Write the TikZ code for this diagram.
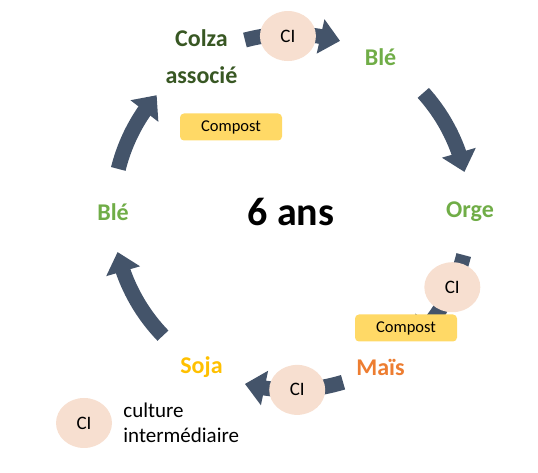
\documentclass[tikz,border=0pt]{standalone}
\usepackage{fontspec}
\setmainfont{Carlito}
\usepackage{tikz}
\usetikzlibrary{arrows.meta, positioning, shapes.geometric, bending}

\definecolor{flowblue}{HTML}{44546A}
\definecolor{cipeach}{HTML}{F7DFD0}
\definecolor{compostgold}{HTML}{FFD966}
\definecolor{colzagreen}{HTML}{385723}
\definecolor{blegreen}{HTML}{70AD47}
\definecolor{maisorange}{HTML}{ED7D31}
\definecolor{sojagold}{HTML}{FFC000}

\begin{document}
\begin{tikzpicture}[
  x=1pt, y=1pt,
  crop/.style={font=\fontsize{24}{37}\selectfont\bfseries, align=center, inner sep=0pt},
  ci/.style={ellipse, fill=cipeach, minimum width=56pt, minimum height=50pt, inner sep=0pt, font=\fontsize{19}{22}\selectfont},
  compost/.style={rectangle, rounded corners=4pt, fill=compostgold, minimum width=102pt, minimum height=27pt, inner sep=0pt, font=\fontsize{16.5}{19}\selectfont},
  flow/.style={draw=flowblue, line width=15pt, -{Triangle[width=34pt, length=20pt]}}
]
\useasboundingbox (0,0) rectangle (538,473);
\coordinate (c) at (291,261);

% fleches du cycle
\draw[flow] ([shift={(105:178pt)}]c) arc[start angle=105, end angle=74, radius=178pt];
\draw[flow] ([shift={(42:178pt)}]c) arc[start angle=42, end angle=13, radius=178pt];
\draw[flow] ([shift={(346:178pt)}]c) arc[start angle=346, end angle=314, radius=178pt];
\draw[flow] ([shift={(287:178pt)}]c) arc[start angle=287, end angle=255, radius=178pt];
\draw[flow] ([shift={(224:178pt)}]c) arc[start angle=224, end angle=193, radius=178pt];
\draw[flow] ([shift={(166:178pt)}]c) arc[start angle=166, end angle=139, radius=178pt];

% cultures intermediaires
\node[ci] (citop) at ([shift={(91:176pt)}]c) {CI};
\node[ci] (ciright) at ([shift={(335:178pt)}]c) {CI};
\node[ci] (cibottom) at ([shift={(272:178pt)}]c) {CI};

% cultures
\node[crop, text=colzagreen] (colza) at ([shift={(120:179pt)}]c) {Colza\\associé};
\node[crop, text=blegreen] (bletop) at ([shift={(60:179pt)}]c) {Blé};
\node[crop, text=blegreen] (orge) at ([shift={(0:179pt)}]c) {Orge};
\node[crop, text=maisorange] (mais) at ([shift={(300:179pt)}]c) {Maïs};
\node[crop, text=sojagold] (soja) at ([shift={(240:179pt)}]c) {Soja};
\node[crop, text=blegreen] (bleleft) at ([shift={(180:178pt)}]c) {Blé};

% compost
\node[compost] (compup) at (231,346) {Compost};
\node[compost] (compdown) at (406,145) {Compost};

\node[font=\fontsize{40}{44}\selectfont\bfseries] (duree) at (c) {6 ans};

% legende
\node[ci] (legci) at (84,50) {CI};
\node[right=11pt of legci, align=left, inner sep=0pt, font=\fontsize{21}{25}\selectfont] (legtxt) {culture\\intermédiaire};

\end{tikzpicture}
\end{document}
